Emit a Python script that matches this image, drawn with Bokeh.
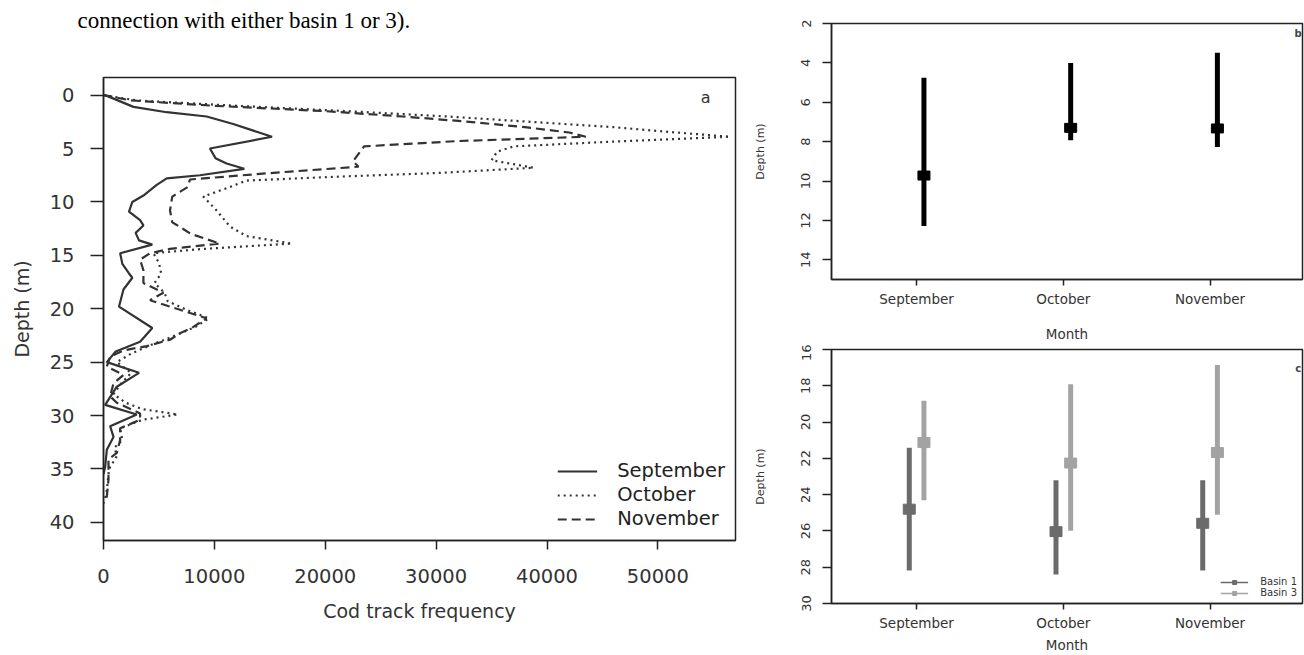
from bokeh.plotting import figure
from bokeh.models import Range1d, FixedTicker, Legend, LegendItem, Label
from bokeh.layouts import row, column
from bokeh.embed import file_html
from bokeh.resources import INLINE

# ---------------- data ----------------
caption = "connection with either basin 1 or 3)."

# panel a: cod track frequency by depth
sep_depth = [0.0, 1.1, 1.6, 2.0, 2.7, 3.9, 5.0, 5.9, 6.4, 6.9, 7.5, 7.8, 8.4, 9.4, 10.0, 10.9, 11.7, 12.2,
             12.9, 13.6, 14.0, 14.8, 15.8, 16.7, 17.1, 18.2, 19.8, 21.8, 23.1, 24.0, 25.0, 26.0, 27.3,
             29.0, 29.9, 31.0, 32.0, 33.2, 34.8, 35.5]
sep_freq = [150, 2700, 5700, 9300, 11700, 15200, 9600, 10100, 11100, 12700, 8700, 5700, 4800, 3600, 2600,
            2300, 3300, 3600, 2900, 3200, 4400, 1500, 1700, 2300, 2600, 1800, 1400, 4400, 3300, 1100,
            300, 3200, 1200, 150, 3000, 600, 900, 300, 150, 0]

oct_depth = [0.0, 0.5, 1.0, 1.5, 2.0, 2.6, 3.0, 3.4, 3.9, 4.4, 4.8, 5.3, 6.1, 6.8, 7.3, 7.6, 8.0, 8.6,
             9.5, 10.8, 12.3, 13.2, 13.9, 14.4, 14.8, 15.7, 16.7, 17.6, 18.5, 19.3, 20.1, 20.9, 21.7,
             22.5, 23.3, 24.2, 25.0, 26.0, 27.0, 28.0, 28.8, 29.4, 29.9, 30.4, 31.2, 32.3, 33.0, 33.8,
             35.0, 36.0, 37.0, 38.0]
oct_freq = [0, 3000, 12000, 22000, 31000, 40000, 46000, 50500, 56500, 45000, 37000, 35500, 35000, 38800,
            30000, 22000, 12900, 11400, 9000, 10200, 11400, 12900, 17000, 9000, 4500, 5000, 5200, 4600,
            5500, 5800, 7500, 9500, 8300, 6500, 4500, 2500, 1200, 2500, 1600, 900, 2000, 3500, 6700,
            3500, 1500, 1700, 1000, 1200, 500, 400, 300, 100]

nov_depth = [0.0, 0.5, 1.0, 1.5, 2.0, 2.5, 3.0, 3.5, 3.9, 4.3, 4.8, 5.5, 6.2, 6.7, 7.3, 7.9, 8.6, 9.5,
             10.8, 11.9, 13.0, 13.9, 14.4, 14.8, 15.4, 16.4, 17.6, 18.5, 19.2, 20.1, 20.9, 21.7, 22.3,
             22.9, 23.5, 23.9, 24.5, 25.4, 26.2, 27.0, 28.2, 28.8, 29.8, 30.4, 31.2, 32.3, 33.5, 34.1,
             36.0, 37.6, 38.2]
nov_freq = [0, 2500, 10000, 20000, 27000, 33000, 38000, 42000, 43500, 32000, 23500, 23000, 22500, 23000,
            15000, 7800, 7600, 6200, 6000, 6200, 7900, 10500, 6000, 4200, 3300, 3600, 3600, 5400, 4200,
            6900, 9300, 8100, 6900, 6000, 3900, 1800, 600, 300, 1800, 900, 600, 1200, 3300, 3300, 1500,
            1500, 1200, 450, 450, 300, 0]

a_xticks = [0, 10000, 20000, 30000, 40000, 50000]
a_xtick_labels = ["0", "10000", "20000", "30000", "40000", "50000"]
a_yticks = [0, 5, 10, 15, 20, 25, 30, 35, 40]

# panels b and c: depth range (shallow, deep) and mean per month
months = ["September", "October", "November"]
b_shallow = [4.76, 4.00, 3.49]
b_deep = [12.28, 7.93, 8.27]
b_mean = [9.72, 7.30, 7.33]
b_yticks = [2, 4, 6, 8, 10, 12, 14]

basin1_shallow = [21.42, 23.21, 23.21]
basin1_deep = [28.18, 28.40, 28.18]
basin1_mean = [24.80, 26.04, 25.58]
basin3_shallow = [18.83, 17.92, 16.86]
basin3_deep = [24.31, 25.99, 25.11]
basin3_mean = [21.13, 22.26, 21.68]
c_yticks = [16, 18, 20, 22, 24, 26, 28, 30]

# ---------------- styling ----------------
FONT = "DejaVu Sans"
INK = "#222222"
LINE = "#333333"
B1 = "#6b6b6b"
B3 = "#a3a3a3"
NAN = float("nan")


def style_axes(p, size, tick_color=INK):
    for ax in (p.xaxis[0], p.yaxis[0]):
        ax.axis_line_color = INK
        ax.axis_line_width = 1.5
        ax.major_tick_line_color = INK
        ax.major_tick_line_width = 1.5
        ax.major_tick_in = 0
        ax.minor_tick_line_color = None
        ax.major_label_text_font = FONT
        ax.major_label_text_font_size = size
        ax.major_label_text_color = tick_color
        ax.axis_label_text_font = FONT
        ax.axis_label_text_font_style = "normal"
        ax.axis_label_text_color = tick_color
    p.grid.visible = False
    p.outline_line_color = INK
    p.outline_line_width = 1.5
    p.outline_line_alpha = 1.0


# ---------------- caption strip ----------------
cap = figure(width=750, height=45, output_backend="svg", toolbar_location=None,
             x_range=Range1d(0, 1), y_range=Range1d(0, 1),
             min_border_left=0, min_border_right=0, min_border_top=0, min_border_bottom=0)
cap.axis.visible = False
cap.grid.visible = False
cap.outline_line_color = None
cap.title.text = caption
cap.title.align = "left"
cap.title.offset = -26
cap.title.standoff = 10
cap.title.text_font = "Liberation Serif"
cap.title.text_font_size = "23px"
cap.title.text_font_style = "normal"
cap.title.text_color = "black"

# ---------------- panel a ----------------
pa = figure(width=750, height=610, output_backend="svg", toolbar_location=None,
            x_range=Range1d(0, 57000), y_range=Range1d(41.7, -1.65),
            min_border_left=103, min_border_right=15, min_border_top=32, min_border_bottom=115)

style_axes(pa, "19.5px", tick_color="#333333")
pa.xaxis.ticker = FixedTicker(ticks=a_xticks)
pa.xaxis.major_label_overrides = dict(zip(a_xticks, a_xtick_labels))
pa.yaxis.ticker = FixedTicker(ticks=a_yticks)
pa.yaxis.major_tick_out = 13
pa.xaxis.major_tick_out = 9
pa.yaxis.major_label_standoff = 16
pa.xaxis.major_label_standoff = 19
pa.xaxis.axis_label = "Cod track frequency"
pa.yaxis.axis_label = "Depth (m)"
pa.xaxis.axis_label_text_font_size = "19px"
pa.yaxis.axis_label_text_font_size = "19px"
pa.xaxis.axis_label_standoff = 14
pa.yaxis.axis_label_standoff = 14

pa.line(sep_freq, sep_depth, line_color=LINE, line_width=2.2, legend_label="September")
pa.line(oct_freq, oct_depth, line_color=LINE, line_width=2.2, line_dash="2 4", legend_label="October")
pa.line(nov_freq, nov_depth, line_color=LINE, line_width=2.2, line_dash="9 5", legend_label="November")

lg = pa.legend[0]
lg.location = "bottom_right"
lg.label_text_font = FONT
lg.label_text_font_size = "19.5px"
lg.label_text_color = INK
lg.glyph_width = 40
lg.glyph_height = 20
lg.label_height = 20
lg.label_standoff = 20
lg.spacing = 1
lg.padding = 4
lg.margin = 6
lg.border_line_alpha = 0
lg.background_fill_alpha = 0

pa.add_layout(Label(x=54300, y=0.2, text="a", text_font=FONT, text_font_size="16px",
                    text_align="center", text_baseline="middle", text_color="#333333"))


# ---------------- panels b and c ----------------
def small_panel(height, y_top, y_bottom, yticks, border_top, border_bottom, title_standoff):
    p = figure(width=554, height=height, output_backend="svg", toolbar_location=None,
               x_range=Range1d(0.42, 3.63), y_range=Range1d(y_bottom, y_top),
               min_border_left=79, min_border_right=2,
               min_border_top=border_top, min_border_bottom=border_bottom)
    style_axes(p, "13.5px", tick_color="#333333")
    p.xaxis.ticker = FixedTicker(ticks=[1, 2, 3])
    p.xaxis.major_label_overrides = {i + 1: m for i, m in enumerate(months)}
    p.xaxis.major_tick_out = 6
    p.xaxis.major_label_standoff = 5
    p.xaxis.axis_label = "Month"
    p.xaxis.axis_label_text_font_size = "13.5px"
    p.xaxis.axis_label_standoff = title_standoff
    p.yaxis.ticker = FixedTicker(ticks=yticks)
    p.yaxis.major_label_orientation = "vertical"
    p.yaxis.major_label_text_font_size = "13px"
    p.yaxis.major_tick_out = 9
    p.yaxis.major_label_standoff = 12
    p.yaxis.axis_label = "Depth (m)"
    p.yaxis.axis_label_text_font_size = "11px"
    p.yaxis.axis_label_standoff = 32
    return p


xs = [i + 1 for i in range(len(months))]

pb = small_panel(344, 2, 15, b_yticks, 23, 62, 16)
bx = [x + 0.05 for x in xs]
pb.segment(x0=bx, y0=b_shallow, x1=bx, y1=b_deep, line_color="black", line_width=5)
pb.rect(x=bx, y=b_mean, width=12, height=9, width_units="screen", height_units="screen",
        fill_color="black", line_color="black")
pb.add_layout(Label(x=3.6, y=2.52, text="b", text_font=FONT, text_font_size="10px",
                    text_font_style="bold", text_align="center", text_baseline="middle"))

pc = small_panel(311, 16, 30, c_yticks, 5, 50, 3)
x1 = [x - 0.05 for x in xs]
x3 = [x + 0.05 for x in xs]
pc.segment(x0=x1, y0=basin1_shallow, x1=x1, y1=basin1_deep, line_color=B1, line_width=5)
pc.rect(x=x1, y=basin1_mean, width=12, height=10, width_units="screen", height_units="screen",
        fill_color=B1, line_color=B1)
pc.segment(x0=x3, y0=basin3_shallow, x1=x3, y1=basin3_deep, line_color=B3, line_width=5)
pc.rect(x=x3, y=basin3_mean, width=12, height=10, width_units="screen", height_units="screen",
        fill_color=B3, line_color=B3)
pc.add_layout(Label(x=3.6, y=17.02, text="c", text_font=FONT, text_font_size="10px",
                    text_font_style="bold", text_align="center", text_baseline="middle"))

# legend proxies (no visible data in the plot)
l1 = pc.line([NAN], [NAN], line_color=B1, line_width=1.5)
m1 = pc.scatter([NAN], [NAN], marker="square", size=3, fill_color=B1, line_color=B1)
l3 = pc.line([NAN], [NAN], line_color=B3, line_width=1.5)
m3 = pc.scatter([NAN], [NAN], marker="square", size=3, fill_color=B3, line_color=B3)
lc = Legend(items=[LegendItem(label="Basin 1", renderers=[l1, m1]),
                   LegendItem(label="Basin 3", renderers=[l3, m3])],
            location="bottom_right", label_text_font=FONT, label_text_font_size="10px",
            label_text_color="#333333", glyph_width=28, glyph_height=10, label_height=10,
            label_standoff=12, spacing=0, padding=2, margin=3,
            border_line_alpha=0, background_fill_alpha=0)
pc.add_layout(lc)

layout = row(column(cap, pa), column(pb, pc))

with open("out.html", "w") as f:
    f.write(file_html(layout, INLINE))
